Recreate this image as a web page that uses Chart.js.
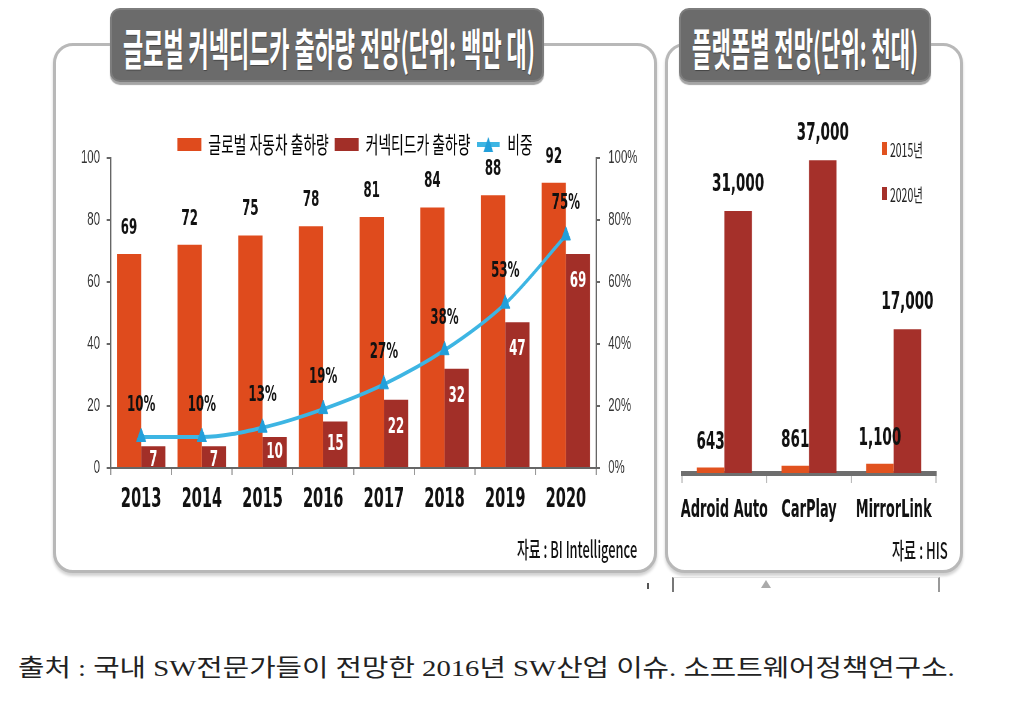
<!DOCTYPE html>
<html><head><meta charset="utf-8">
<script src="https://cdn.jsdelivr.net/npm/chart.js@4"></script>
<style>
html,body{margin:0;padding:0;background:#fff;}
body{width:1020px;height:723px;position:relative;overflow:hidden;font-family:"Noto Sans CJK KR",sans-serif;}
.frame{position:absolute;box-sizing:border-box;border:3px solid #b8b8b8;border-radius:20px;box-shadow:0 3px 3px rgba(0,0,0,0.18);background:#fff;}
.titlebox{position:absolute;box-sizing:border-box;background:#6b6b6b;border-radius:10px;border:2px solid #7d7d7d;box-shadow:0 3px 1px #a5a5a5;}
.fit{position:absolute;white-space:nowrap;line-height:1;transform-origin:0 50%;}
.title{color:#fff;font-weight:700;font-size:44px;text-shadow:1px 1px 1px rgba(0,0,0,0.35);}
canvas{position:absolute;}
.src{font-size:23px;color:#111;font-weight:500;}
.leg2{position:absolute;left:880px;top:130px;width:48px;height:90px;overflow:hidden;}
.leg2 .sw{position:absolute;width:5px;height:13px;}
.cap{font-size:24px;color:#222;font-family:"Liberation Serif","Noto Sans CJK KR",serif;}
</style></head>
<body>
<div class="frame" style="left:53px;top:43px;width:604px;height:530px;"></div>
<div class="frame" style="left:665px;top:43px;width:298px;height:530px;"></div>
<div class="titlebox" style="left:110px;top:8px;width:434px;height:74px;"></div>
<div class="titlebox" style="left:679px;top:8px;width:252px;height:74px;"></div>
<div class="fit title" id="t1">글로벌 커넥티드카 출하량 전망(단위: 백만 대)</div>
<div class="fit title" id="t2">플랫폼별 전망(단위: 천대)</div>
<canvas id="c1" width="1000" height="420" style="left:55px;top:118px;width:600px;height:420px;"></canvas>
<canvas id="c2" width="493" height="420" style="left:667px;top:118px;width:296px;height:420px;"></canvas>
<div class="leg2" id="leg2"></div>
<div class="fit src" id="s1">자료 : BI Intelligence</div>
<div class="fit src" id="s2">자료 : HIS</div>
<div style="position:absolute;left:672px;top:577px;width:264px;height:14px;border-left:2px solid #777;border-right:2px solid #999;border-top:1px solid #e2e2e2;"></div>
<div style="position:absolute;left:761px;top:580px;width:0;height:0;border-left:5px solid transparent;border-right:5px solid transparent;border-bottom:8px solid #aaa;"></div>
<div style="position:absolute;left:647px;top:583px;width:2px;height:6px;background:#555;"></div>
<div class="fit cap" id="cap">출처 : 국내 SW전문가들이 전망한 2016년 SW산업 이슈. 소프트웨어정책연구소.</div>
<script>
// ---- data ----
const years = ['2013','2014','2015','2016','2017','2018','2019','2020'];
const globalShip = [69,72,75,78,81,84,88,92];
const connectedShip = [7,7,10,15,22,32,47,69];
const sharePct = [10,10,13,19,27,38,53,75];
const seriesNames = ['글로벌 자동차 출하량','커넥티드카 출하량','비중'];
const leftTickMax = 100;
const leftTickStep = 20;

const platforms = ['Adroid Auto','CarPlay','MirrorLink'];
const plat2015 = [643,861,1100];
const plat2020 = [31000,37000,17000];
const platSeries = ['2015년','2020년'];
const platMax = 40000;

// ---- styles ----
const NARROW = '"Liberation Sans Narrow","DejaVu Sans Condensed","Roboto Condensed",sans-serif';
const ARIAL = '"Liberation Sans",Arial,sans-serif';
const KR = '"Noto Sans CJK KR","Noto Sans",sans-serif';
const orangeC = '#DF4B1D', darkC = '#A22F28', lineC = '#3DB5E3', markerC = '#229FDA';
const p15C = '#E1521F', p20C = '#A5302A';

function fit(id, x, cy, w){
  const el = document.getElementById(id);
  el.style.left = x + 'px';
  const sx = w / el.offsetWidth;
  el.style.transform = 'scaleX(' + sx + ')';
  el.style.top = (cy - el.offsetHeight/2) + 'px';
}
fit('t1', 123, 47, 412);
fit('t2', 692, 47, 226);
fit('s1', 517, 548, 120);
fit('s2', 892, 549, 56);
fit('cap', 18, 668, 937);

function rectIcon(color,w,h){const c=document.createElement('canvas');c.width=w;c.height=h;const g=c.getContext('2d');g.fillStyle=color;g.fillRect(0,0,w,h);return c;}
function lineIcon(color,mColor,w,h){const c=document.createElement('canvas');c.width=w;c.height=h;const g=c.getContext('2d');
  g.strokeStyle=color;g.lineWidth=5;g.beginPath();g.moveTo(0,h/2);g.lineTo(w,h/2);g.stroke();
  g.fillStyle=mColor;g.beginPath();g.moveTo(w/2,0);g.lineTo(w/2+8,h);g.lineTo(w/2-8,h);g.closePath();g.fill();return c;}
const icons = [rectIcon(orangeC,40,13), rectIcon(darkC,40,13), lineIcon(lineC,markerC,38,15)];

const legendHeight = {
  id:'legendHeight',
  beforeLayout(chart){
    const lg = chart.legend;
    if (lg && !lg._patched){ const f = lg.fit; lg.fit = function(){ f.call(this); this.height = 35; }; lg._patched = true; }
  }
};

const leftLabels = {
  id:'leftLabels',
  afterDatasetsDraw(chart){
    const ctx = chart.ctx; ctx.save();
    ctx.textAlign='center'; ctx.textBaseline='middle';
    ctx.font = 'bold 22px ' + NARROW;
    chart.getDatasetMeta(0).data.forEach((el,i)=>{ ctx.fillStyle='#111'; ctx.fillText(String(globalShip[i]), el.x, el.y-26); });
    chart.getDatasetMeta(1).data.forEach((el,i)=>{ const h=el.base-el.y; const off=Math.min(Math.max(h/2,14),27); ctx.fillStyle='#fff'; ctx.fillText(String(connectedShip[i]), el.x, el.y+off); });
    chart.getDatasetMeta(2).data.forEach((el,i)=>{ ctx.fillStyle='#111'; ctx.fillText(sharePct[i]+'%', el.x, el.y-32); });
    ctx.restore();
  }
};

new Chart(document.getElementById('c1'), {
  type:'bar',
  data:{labels:years, datasets:[
    {label:seriesNames[0], data:globalShip, backgroundColor:orangeC, yAxisID:'y', order:1, categoryPercentage:0.8, barPercentage:1.0},
    {label:seriesNames[1], data:connectedShip, backgroundColor:darkC, yAxisID:'y', order:1, categoryPercentage:0.8, barPercentage:1.0},
    {type:'line', label:seriesNames[2], data:sharePct, yAxisID:'y1', order:0, borderColor:lineC, borderWidth:4,
     pointStyle:'triangle', pointRadius:9, pointBackgroundColor:markerC, pointBorderColor:markerC, pointBorderWidth:1,
     cubicInterpolationMode:'monotone'}
  ]},
  options:{responsive:false, animation:false, devicePixelRatio:1,
    layout:{padding:{top:5,left:0,right:0,bottom:0}},
    plugins:{
      tooltip:{enabled:false},
      legend:{position:'top', align:'center', labels:{usePointStyle:true, pointStyleWidth:40, boxHeight:13, padding:10,
        font:{family:KR, size:23}, color:'#222',
        generateLabels(chart){ return chart.data.datasets.map((d,i)=>({text:d.label, datasetIndex:i, pointStyle:icons[i], fillStyle:'rgba(0,0,0,0)', strokeStyle:'rgba(0,0,0,0)', lineWidth:0, hidden:false})); }}}
    },
    scales:{
      x:{grid:{drawOnChartArea:false, tickLength:7, color:'#999', lineWidth:2, offset:true},
         border:{display:true, color:'#666', width:2},
         ticks:{font:{family:NARROW, weight:'bold', size:27}, color:'#111', padding:9, maxRotation:0, minRotation:0, autoSkip:false},
         afterFit(s){ s.height = 70; }},
      y:{position:'left', min:0, max:leftTickMax,
         ticks:{stepSize:leftTickStep, font:{family:ARIAL, size:19}, color:'#333', padding:11},
         grid:{drawOnChartArea:false, tickLength:7, color:'#666', lineWidth:2},
         border:{display:true, color:'#666', width:2},
         afterFit(s){ s.width = 93; }},
      y1:{position:'right', min:0, max:leftTickMax,
         ticks:{stepSize:leftTickStep, callback:v=>v+'%', font:{family:ARIAL, size:19}, color:'#333', padding:14},
         grid:{drawOnChartArea:false, tickLength:6, color:'#666', lineWidth:2},
         border:{display:true, color:'#666', width:2},
         afterFit(s){ s.width = 98; }}
    }
  },
  plugins:[legendHeight, leftLabels]
});

const rightLabels = {
  id:'rightLabels',
  afterDatasetsDraw(chart){
    const ctx = chart.ctx; ctx.save();
    ctx.textAlign='center'; ctx.textBaseline='middle';
    ctx.font = 'bold 25px ' + NARROW; ctx.fillStyle='#111';
    chart.getDatasetMeta(0).data.forEach((el,i)=>{ ctx.fillText(plat2015[i].toLocaleString('en-US'), el.x, el.y-25); });
    chart.getDatasetMeta(1).data.forEach((el,i)=>{ ctx.fillText(plat2020[i].toLocaleString('en-US'), el.x, el.y-27); });
    ctx.restore();
  }
};

new Chart(document.getElementById('c2'), {
  type:'bar',
  data:{labels:platforms, datasets:[
    {label:platSeries[0], data:plat2015, backgroundColor:p15C, categoryPercentage:0.65, barPercentage:1.0},
    {label:platSeries[1], data:plat2020, backgroundColor:p20C, categoryPercentage:0.65, barPercentage:1.0}
  ]},
  options:{responsive:false, animation:false, devicePixelRatio:1,
    layout:{padding:{top:17,left:25,right:45,bottom:0}},
    plugins:{legend:{display:false}, tooltip:{enabled:false}},
    scales:{
      x:{grid:{drawOnChartArea:false, tickLength:10, color:'#bbb', lineWidth:2, offset:true},
         border:{display:true, color:'#6e6e6e', width:5},
         ticks:{font:{family:NARROW, weight:'bold', size:24}, color:'#111', padding:13, maxRotation:0, minRotation:0, autoSkip:false},
         afterFit(s){ s.height = 65; }},
      y:{display:false, min:0, max:platMax}
    }
  },
  plugins:[rightLabels]
});

// right legend (HTML) built from the series arrays
const leg2 = document.getElementById('leg2');
[[platSeries[0],p15C,12],[platSeries[1],p20C,57]].forEach(([t,c,y])=>{
  const sw=document.createElement('div'); sw.className='sw'; sw.style.left='2px'; sw.style.top=y+'px'; sw.style.background=c; leg2.appendChild(sw);
  const tx=document.createElement('div'); tx.textContent=t;
  tx.style.cssText='position:absolute;left:10px;top:'+(y-2)+'px;font-size:18px;line-height:18px;color:#222;white-space:nowrap;transform:scaleX(0.58);transform-origin:0 0;';
  leg2.appendChild(tx);
});
</script>
</body></html>
